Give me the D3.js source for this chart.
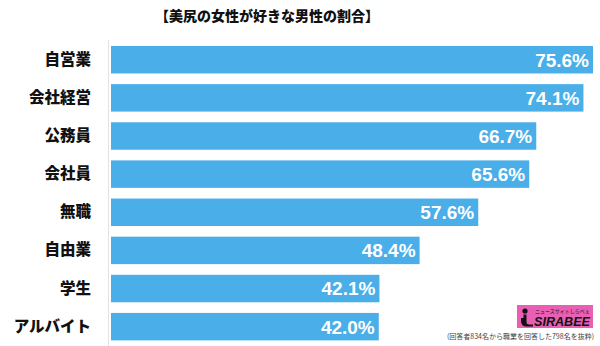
<!DOCTYPE html>
<html>
<head>
<meta charset="utf-8">
<script src="https://cdn.jsdelivr.net/npm/d3@7"></script>
<style>
  html, body { margin: 0; padding: 0; background: #fff; }
  svg { display: block; }
</style>
</head>
<body>
<svg id="chart" width="600" height="346"></svg>
<script>
// Share of women who like men with a nice bottom, by the men's occupation
const categories = ["自営業", "会社経営", "公務員", "会社員", "無職", "自由業", "学生", "アルバイト"];
const values = [75.6, 74.1, 66.7, 65.6, 57.6, 48.4, 42.1, 42.0];
const valueLabels = ["75.6%", "74.1%", "66.7%", "65.6%", "57.6%", "48.4%", "42.1%", "42.0%"];

const svg = d3.select("#chart");
const jpFont = "'Noto Sans CJK JP', 'Noto Sans', sans-serif";
const numFont = "'Liberation Sans', Arial, sans-serif";

const x = d3.scaleLinear().domain([0, 75.6]).range([111, 593]);
const y = d3.scaleBand().domain(categories).range([46, 340.4]).paddingInner(0.28).paddingOuter(0);

// title
svg.append("text")
  .attr("x", 267).attr("y", 21)
  .attr("text-anchor", "middle")
  .attr("font-family", jpFont).attr("font-weight", 900).attr("font-size", 14)
  .attr("fill", "#111")
  .text("【美尻の女性が好きな男性の割合】");

// baseline
svg.append("line")
  .attr("x1", 108.5).attr("x2", 108.5).attr("y1", 40).attr("y2", 346)
  .attr("stroke", "#e2e2e2").attr("stroke-width", 1);

// bars
svg.selectAll("rect.bar").data(values).join("rect")
  .attr("class", "bar")
  .attr("x", x(0))
  .attr("y", (d, i) => y(categories[i]))
  .attr("width", d => x(d) - x(0))
  .attr("height", y.bandwidth())
  .attr("fill", "#4aaee9");

// value labels inside bar ends
svg.selectAll("text.val").data(values).join("text")
  .attr("class", "val")
  .attr("x", d => x(d) - 4)
  .attr("y", (d, i) => y(categories[i]) + y.bandwidth() / 2)
  .attr("dy", "0.36em")
  .attr("text-anchor", "end")
  .attr("font-family", numFont).attr("font-weight", 700).attr("font-size", 19)
  .attr("fill", "#fff")
  .text((d, i) => valueLabels[i]);

// category labels
const yAxis = d3.axisLeft(y).tickSize(0).tickPadding(0);
const ag = svg.append("g").attr("transform", "translate(91,0)").call(yAxis);
ag.select(".domain").remove();
ag.selectAll("text")
  .attr("font-family", jpFont).attr("font-weight", 900).attr("font-size", 15.5)
  .attr("fill", "#111");

// footnote
svg.append("text")
  .attr("x", 594).attr("y", 339)
  .attr("text-anchor", "end")
  .attr("font-family", jpFont).attr("font-size", 7)
  .attr("fill", "#444")
  .text("(回答者834名から職業を回答した798名を抜粋)");

// logo
const logo = svg.append("g").attr("transform", "translate(517,305)");
logo.append("rect").attr("width", 76).attr("height", 23).attr("fill", "#e95fb4");
logo.append("circle").attr("cx", 8).attr("cy", 6).attr("r", 2.6).attr("fill", "#111");
logo.append("path")
  .attr("d", "M6.5,9.5 L9.5,9.5 L9.5,17 Q9.5,19.5 12,19.5 L16,19.5 L16,21.5 L10,21.5 Q4,21.5 4,16 L4,13 L6.5,13 Z")
  .attr("fill", "#111");
logo.append("text")
  .attr("x", 18).attr("y", 8)
  .attr("font-family", jpFont).attr("font-size", 5)
  .attr("fill", "#111")
  .text("ニュースサイトしらべぇ");
logo.append("text")
  .attr("x", 17).attr("y", 20.5)
  .attr("font-family", numFont).attr("font-weight", 700).attr("font-style", "italic").attr("font-size", 13.5)
  .attr("textLength", 56).attr("lengthAdjust", "spacingAndGlyphs")
  .attr("fill", "#111")
  .text("SIRABEE");
</script>
</body>
</html>
